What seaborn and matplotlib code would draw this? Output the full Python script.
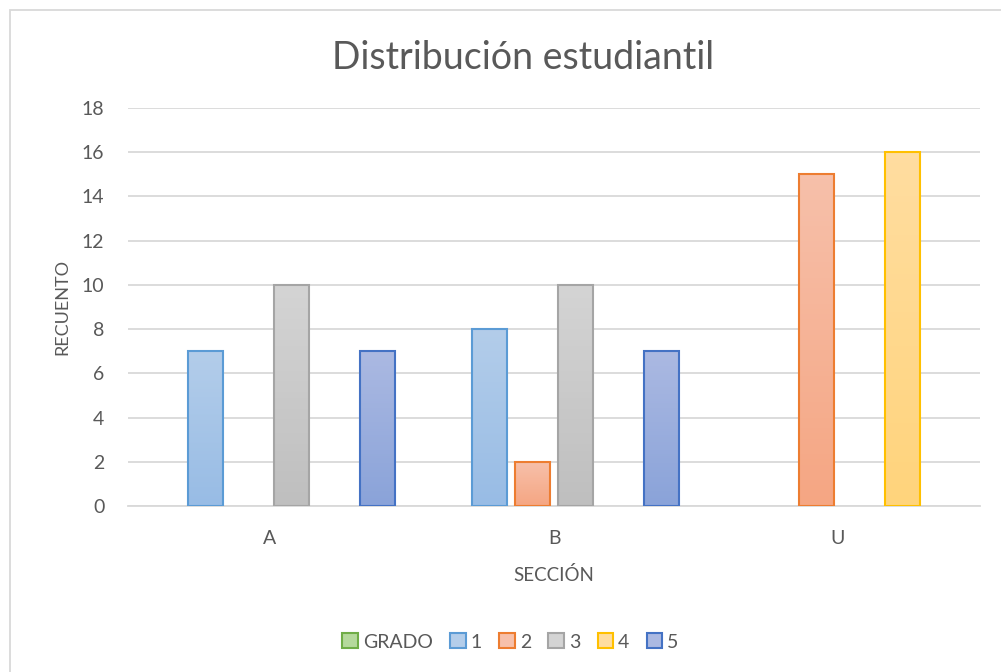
import numpy as np
import pandas as pd
import matplotlib
matplotlib.use("Agg")
import matplotlib.pyplot as plt
import seaborn as sns
from matplotlib.colors import LinearSegmentedColormap
from matplotlib.patches import Rectangle, Patch

secciones = ["A", "B", "U"]
grados = ["GRADO", "1", "2", "3", "4", "5"]
recuento = {
    "GRADO": [np.nan, np.nan, np.nan],
    "1": [7, 8, np.nan],
    "2": [np.nan, 2, 15],
    "3": [10, 10, np.nan],
    "4": [np.nan, np.nan, 16],
    "5": [7, 7, np.nan],
}
yticks = [0, 2, 4, 6, 8, 10, 12, 14, 16, 18]

edge_colors = {"GRADO": "#70AD47", "1": "#5B9BD5", "2": "#ED7D31",
               "3": "#A5A5A5", "4": "#FFC000", "5": "#4472C4"}
top_colors = {"GRADO": "#B5D99C", "1": "#B3CDEA", "2": "#F7C0AA",
              "3": "#D4D4D4", "4": "#FFDDA0", "5": "#ABB9E2"}
bot_colors = {"GRADO": "#9CCB7C", "1": "#98BCE5", "2": "#F5A683",
              "3": "#BFBFBF", "4": "#FFD47C", "5": "#8AA3D9"}

rows = []
for g in grados:
    for s, v in zip(secciones, recuento[g]):
        rows.append({"SECCIÓN": s, "GRADO": g, "RECUENTO": v})
df = pd.DataFrame(rows)

sns.set_theme(style="white")
plt.rcParams["font.family"] = ["Lato", "DejaVu Sans"]
text_color = "#595959"

fig = plt.figure(figsize=(10.01, 6.72), dpi=100)
ax = fig.add_axes([128 / 1001, 1 - 506 / 672, 852 / 1001, 398 / 672])

group_width = 0.908
sns.barplot(data=df, x="SECCIÓN", y="RECUENTO", hue="GRADO", hue_order=grados,
            order=secciones, width=group_width, gap=0.19, ax=ax, legend=False,
            palette=edge_colors, saturation=1)

# recolor bars with a vertical gradient; find each bar's hue from its slot
slot = group_width / len(grados)
for patch in list(ax.patches):
    h = patch.get_height()
    if not np.isfinite(h) or h == 0:
        continue
    x0 = patch.get_x()
    w = patch.get_width()
    cx = x0 + w / 2
    k = int(round((cx - round(cx)) / slot + (len(grados) - 1) / 2))
    g = grados[k]
    patch.set_facecolor("none")
    patch.set_edgecolor(edge_colors[g])
    patch.set_linewidth(1.5)
    patch.set_zorder(3)
    cmap = LinearSegmentedColormap.from_list(g, [bot_colors[g], top_colors[g]])
    grad = np.linspace(0, 1, 64).reshape(-1, 1)
    im = ax.imshow(grad, cmap=cmap, origin="lower", aspect="auto",
                   extent=[x0, x0 + w, 0, h], zorder=2)
    im.set_clip_path(patch)

ax.set_xlim(-0.5, 2.5)
ax.set_ylim(0, 18)
ax.set_yticks(yticks)
ax.yaxis.grid(True, color="#D9D9D9", linewidth=1.3)
ax.set_axisbelow(True)
for side in ["left", "right", "top"]:
    ax.spines[side].set_visible(False)
ax.spines["bottom"].set_color("#D9D9D9")
ax.spines["bottom"].set_linewidth(1.3)
ax.tick_params(axis="both", length=0, labelsize=14, colors=text_color)
ax.tick_params(axis="x", pad=17)
ax.tick_params(axis="y", pad=17)

ax.set_xlabel("SECCIÓN", fontsize=13.5, color=text_color, labelpad=14)
ax.set_ylabel("RECUENTO", fontsize=13, color=text_color, labelpad=8)
fig.text(0.523, 1 - 58 / 672, "Distribución estudiantil", ha="center",
         va="center", fontsize=27, color=text_color)

handles = [Patch(facecolor=top_colors[g], edgecolor=edge_colors[g], linewidth=1.5)
           for g in grados]
fig.legend(handles, grados, loc="center", bbox_to_anchor=(0.51, 1 - 642 / 672),
           ncol=6, frameon=False, fontsize=14, handlelength=0.8, handleheight=0.8,
           handletextpad=0.25, columnspacing=0.9, labelcolor=text_color)

fig.patches.append(Rectangle((10 / 1001, -0.1), 1.2, 1 - 10 / 672 + 0.1,
                             transform=fig.transFigure, fill=False,
                             edgecolor="#D9D9D9", linewidth=1.3))

fig.savefig("out.png", dpi=100)
